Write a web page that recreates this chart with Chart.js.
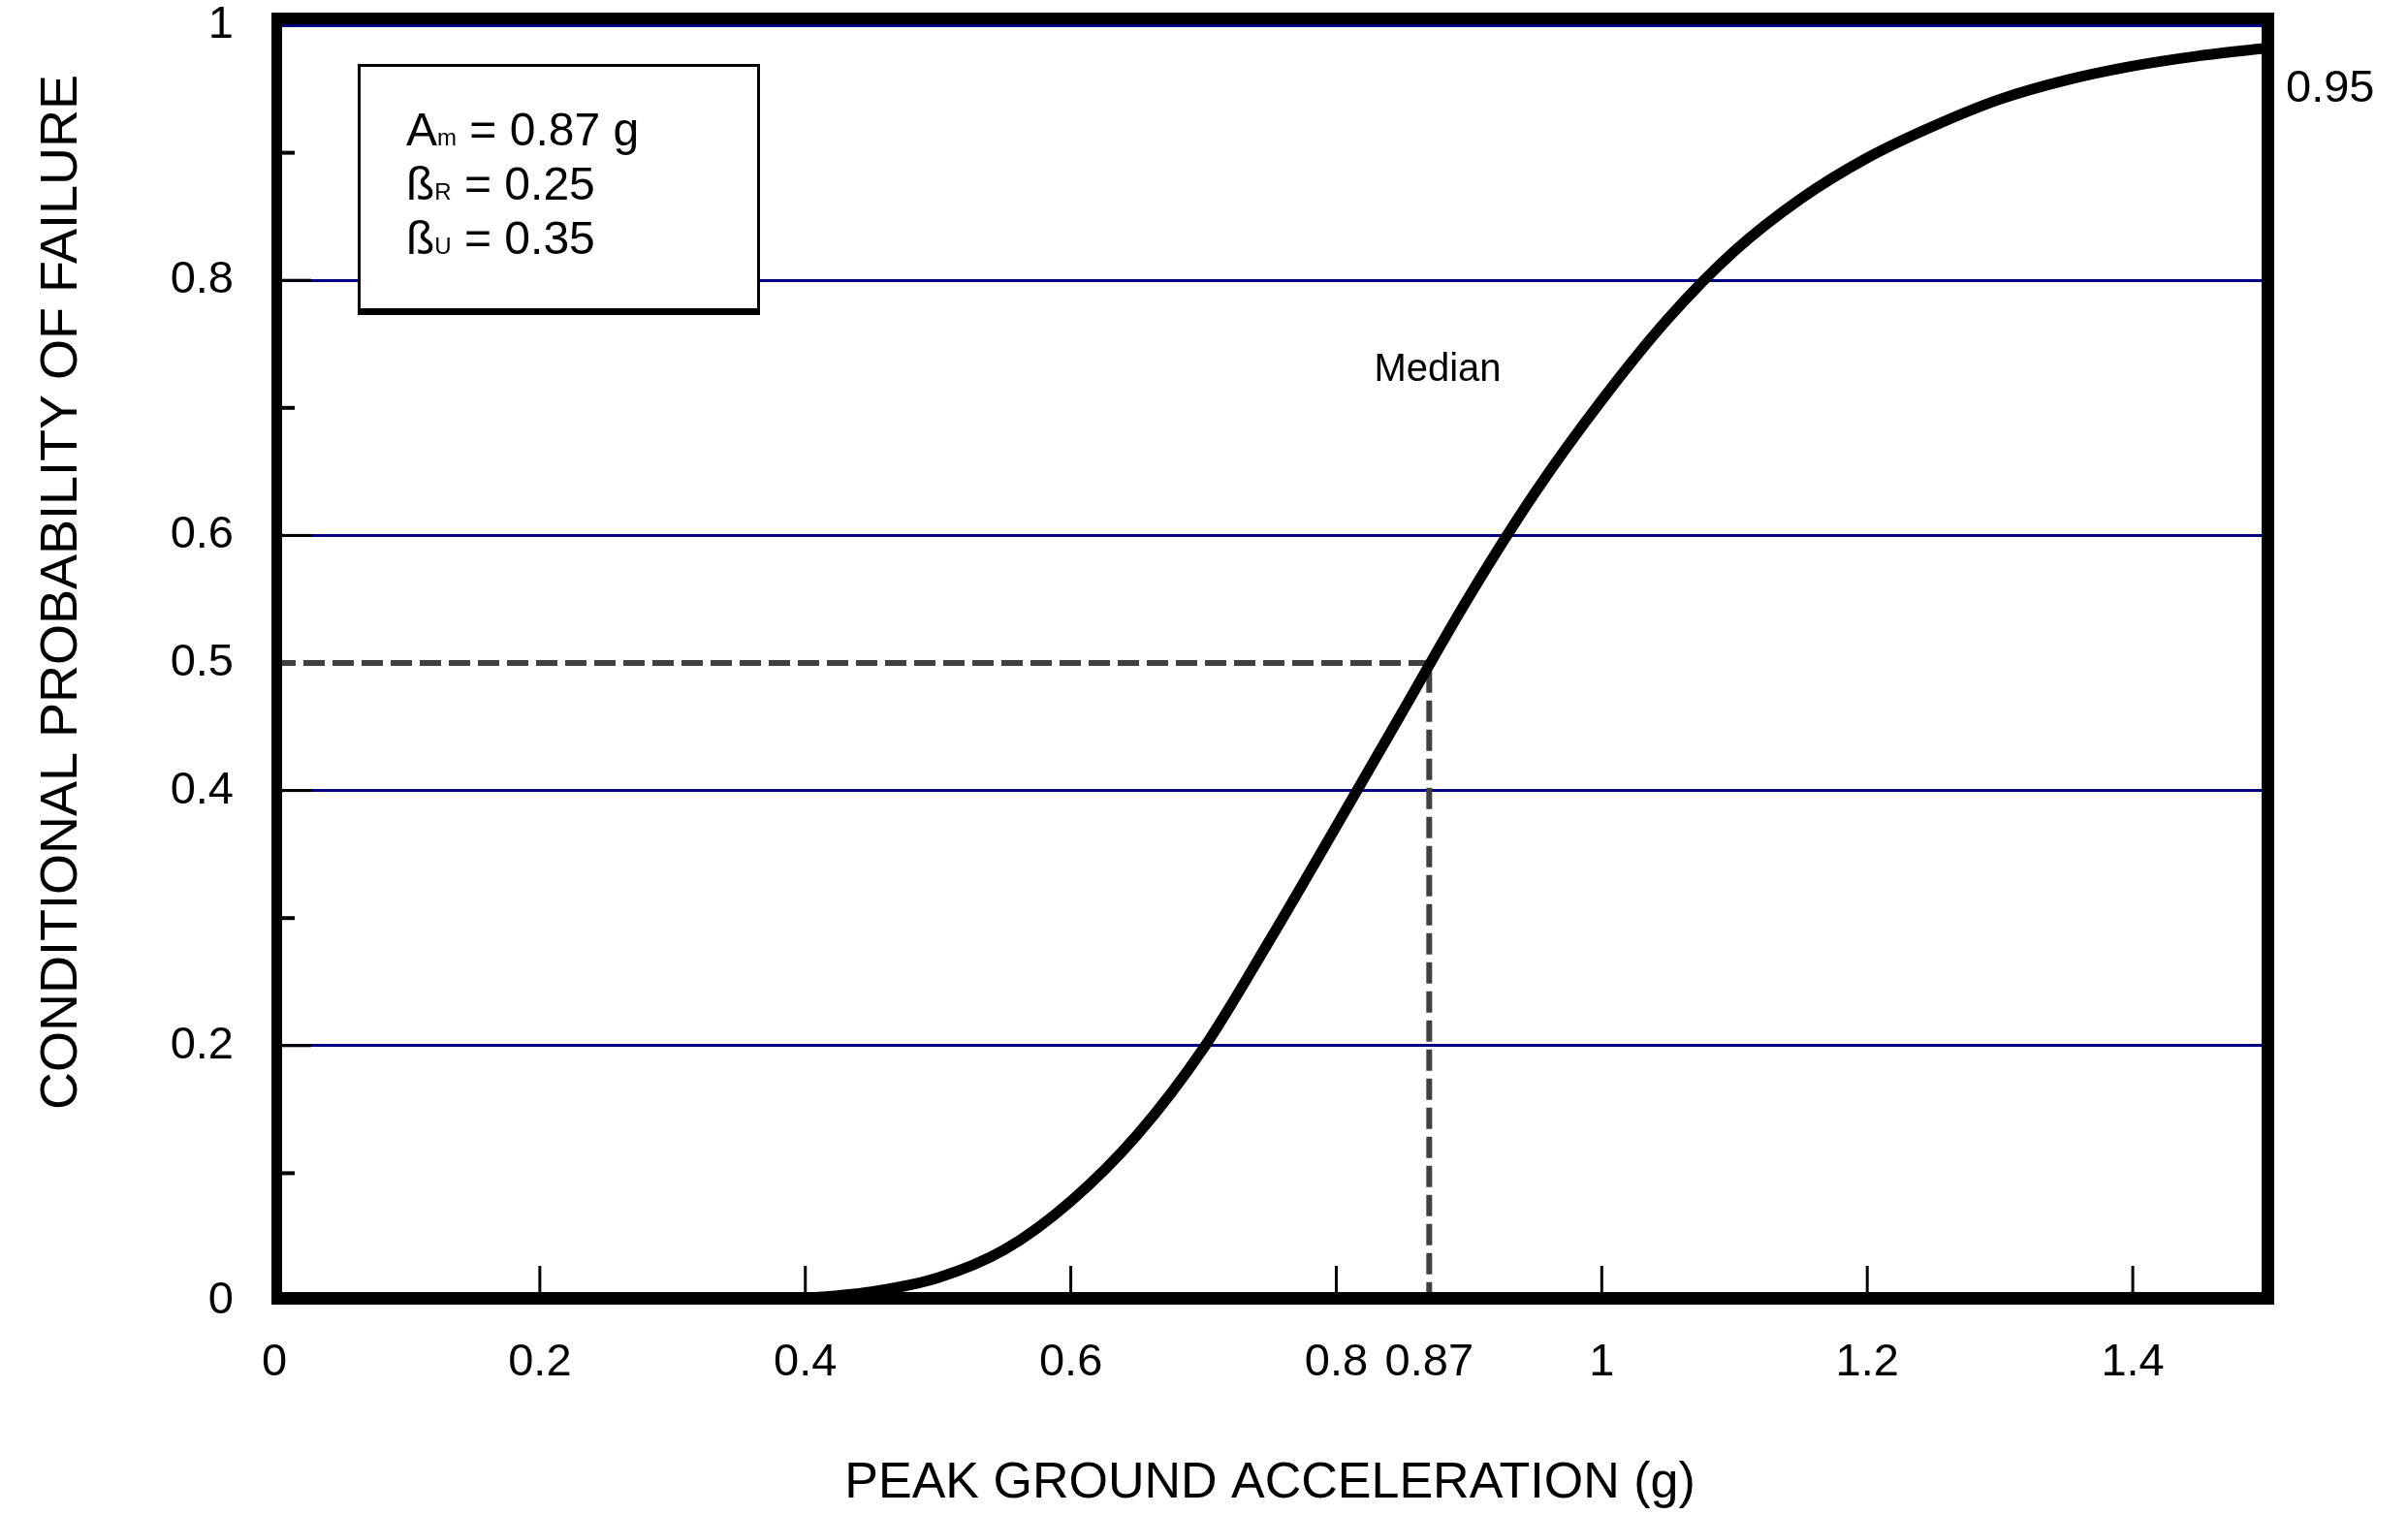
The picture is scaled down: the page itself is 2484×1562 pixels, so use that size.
<!DOCTYPE html>
<html>
<head>
<meta charset="utf-8">
<title>Conditional probability of failure</title>
<script src="https://cdn.jsdelivr.net/npm/chart.js@4.4.1/dist/chart.umd.min.js"></script>
<style>
  html, body { margin: 0; padding: 0; background: #fff; }
  canvas { display: block; }
</style>
</head>
<body>
<canvas id="fragility" width="2484" height="1562"></canvas>
<script>
// values
var pga = [0.1, 0.2, 0.3, 0.35, 0.4, 0.45, 0.5, 0.55, 0.6, 0.65, 0.7, 0.75, 0.8, 0.85,
           0.9, 0.95, 1.0, 1.05, 1.1, 1.15, 1.2, 1.25, 1.3, 1.35, 1.4, 1.45, 1.5];
var failProb = [0, 0, 0, 0, 0.002, 0.007, 0.018, 0.04, 0.078, 0.13, 0.198, 0.283, 0.372, 0.462,
                0.552, 0.634, 0.706, 0.77, 0.823, 0.864, 0.896, 0.921, 0.942, 0.957, 0.968, 0.976, 0.982];

// median guide (dashed)
var medianX = [0, 0.87, 0.87];
var medianY = [0.5, 0.5, 0];

var xTicks = [0, 0.2, 0.4, 0.6, 0.8, 0.87, 1, 1.2, 1.4];
var xMarks = [0.2, 0.4, 0.6, 0.8, 1, 1.2, 1.4];
var yTicks = [0, 0.2, 0.4, 0.5, 0.6, 0.8, 1];
var yGrid = [0.2, 0.4, 0.6, 0.8, 1];
var yMajorMarks = [0.2, 0.4, 0.6, 0.8];
var yMinorMarks = [0.1, 0.3, 0.7, 0.9];
var rightTicks = [0.95];

var boxLines = [["A", "m", " = 0.87 g"], ["\u00DF", "R", " = 0.25"], ["\u00DF", "U", " = 0.35"]];

var FONT = "'Liberation Sans', Arial, Helvetica, sans-serif";
var NAVY = "#000080";

Chart.defaults.font.family = FONT;
Chart.defaults.color = "#000";

function toPoints(xs, ys) {
    var pts = [];
    for (var i = 0; i < xs.length; i++) {
        pts.push({ x: xs[i], y: ys[i] });
    }
    return pts;
}

function fmt(v) {
    return String(Math.round(v * 100) / 100);
}

function fixTicks(list) {
    return function(scale) {
        scale.ticks = list.map(function(v) { return { value: v }; });
    };
}

// frame, inward tick marks, parameter box and labels
var decorations = {
    id: "decorations",
    afterDatasetsDraw: function(chart) {
        var ctx = chart.ctx;
        var a = chart.chartArea;
        var xs = chart.scales.x;
        var ys = chart.scales.y;
        ctx.save();

        ctx.strokeStyle = "#000";
        ctx.lineWidth = 3;
        yMajorMarks.forEach(function(v) {
            var py = ys.getPixelForValue(v);
            ctx.beginPath();
            ctx.moveTo(a.left + 8, py);
            ctx.lineTo(a.left + 38, py);
            ctx.stroke();
        });
        ctx.lineWidth = 4;
        yMinorMarks.forEach(function(v) {
            var py = ys.getPixelForValue(v);
            ctx.beginPath();
            ctx.moveTo(a.left + 8, py);
            ctx.lineTo(a.left + 21, py);
            ctx.stroke();
        });
        ctx.lineWidth = 3;
        xMarks.forEach(function(v) {
            var px = xs.getPixelForValue(v);
            ctx.beginPath();
            ctx.moveTo(px, a.bottom - 9);
            ctx.lineTo(px, a.bottom - 36);
            ctx.stroke();
        });

        // thick frame
        ctx.fillStyle = "#000";
        ctx.fillRect(a.left - 3, a.top - 13, 11, a.bottom - a.top + 17);
        ctx.fillRect(a.left - 3, a.top - 13, a.right - a.left + 12, 12);
        ctx.fillRect(a.right - 4, a.top - 13, 13, a.bottom - a.top + 17);
        ctx.fillRect(a.left - 3, a.bottom - 9, a.right - a.left + 12, 13);

        // parameter box
        var bx = a.left + 86, by = a.top + 40, bw = 415, bh = 259;
        ctx.fillStyle = "#fff";
        ctx.fillRect(bx, by, bw, bh);
        ctx.fillStyle = "#000";
        ctx.fillRect(bx, by, bw, 3);
        ctx.fillRect(bx, by, 3, bh);
        ctx.fillRect(bx + bw - 3, by, 3, bh);
        ctx.fillRect(bx, by + bh - 7, bw, 7);

        ctx.textAlign = "left";
        ctx.textBaseline = "alphabetic";
        boxLines.forEach(function(parts, i) {
            var tx = bx + 50;
            var ty = by + 84 + i * 56;
            ctx.font = "48px " + FONT;
            ctx.fillText(parts[0], tx, ty);
            tx += ctx.measureText(parts[0]).width;
            ctx.font = "24px " + FONT;
            ctx.fillText(parts[1], tx, ty);
            tx += ctx.measureText(parts[1]).width;
            ctx.font = "48px " + FONT;
            ctx.fillText(parts[2], tx, ty);
        });

        // median note
        ctx.font = "40px " + FONT;
        ctx.textAlign = "center";
        ctx.textBaseline = "middle";
        ctx.fillText("Median", 1483, 382);

        // y axis title
        ctx.font = "54px " + FONT;
        ctx.translate(64, 611);
        ctx.rotate(-Math.PI / 2);
        ctx.fillText("CONDITIONAL PROBABILITY OF FAILURE", 0, 0);

        ctx.restore();
    }
};

var chart = new Chart(document.getElementById("fragility").getContext("2d"), {
    type: "scatter",
    data: {
        datasets: [{
            label: "Fragility",
            data: toPoints(pga, failProb),
            showLine: true,
            borderColor: "#000",
            borderWidth: 11,
            pointRadius: 0,
            cubicInterpolationMode: "monotone",
            fill: false
        }, {
            label: "Median",
            data: toPoints(medianX, medianY),
            showLine: true,
            borderColor: "#404040",
            borderWidth: 6,
            borderDash: [22, 8],
            pointRadius: 0,
            fill: false
        }]
    },
    options: {
        responsive: false,
        animation: false,
        devicePixelRatio: 1,
        layout: { padding: { top: 26, left: 0, right: 0, bottom: 0 } },
        plugins: {
            legend: { display: false },
            tooltip: { enabled: false }
        },
        scales: {
            x: {
                type: "linear",
                position: "bottom",
                min: 0,
                max: 1.5,
                afterBuildTicks: fixTicks(xTicks),
                afterFit: function(s) { s.height = 220; s.paddingLeft = 0; s.paddingRight = 0; },
                ticks: {
                    autoSkip: false,
                    maxRotation: 0,
                    padding: 36,
                    font: { size: 47 },
                    color: "#000",
                    callback: function(v) { return fmt(v); }
                },
                grid: { display: false, drawTicks: false },
                border: { display: false },
                title: {
                    display: true,
                    text: "PEAK GROUND ACCELERATION (g)",
                    font: { size: 52 },
                    color: "#000",
                    padding: { top: 0, bottom: 0 }
                }
            },
            y: {
                type: "linear",
                position: "left",
                min: 0,
                max: 1,
                afterBuildTicks: fixTicks(yTicks),
                afterFit: function(s) { s.width = 283; s.paddingTop = 0; s.paddingBottom = 0; },
                ticks: {
                    autoSkip: false,
                    padding: 42,
                    font: { size: 47 },
                    color: "#000",
                    callback: function(v) { return fmt(v); }
                },
                grid: {
                    drawTicks: false,
                    lineWidth: 3,
                    color: function(c) {
                        return c.tick && yGrid.indexOf(c.tick.value) >= 0 ? NAVY : "rgba(0,0,0,0)";
                    }
                },
                border: { display: false }
            },
            y2: {
                type: "linear",
                position: "right",
                min: 0,
                max: 1,
                afterBuildTicks: fixTicks(rightTicks),
                afterFit: function(s) { s.width = 147; s.paddingTop = 0; s.paddingBottom = 0; },
                ticks: {
                    autoSkip: false,
                    padding: 21,
                    font: { size: 47 },
                    color: "#000",
                    callback: function(v) { return fmt(v); }
                },
                grid: { display: false, drawTicks: false },
                border: { display: false }
            }
        }
    },
    plugins: [decorations]
});
</script>
</body>
</html>
